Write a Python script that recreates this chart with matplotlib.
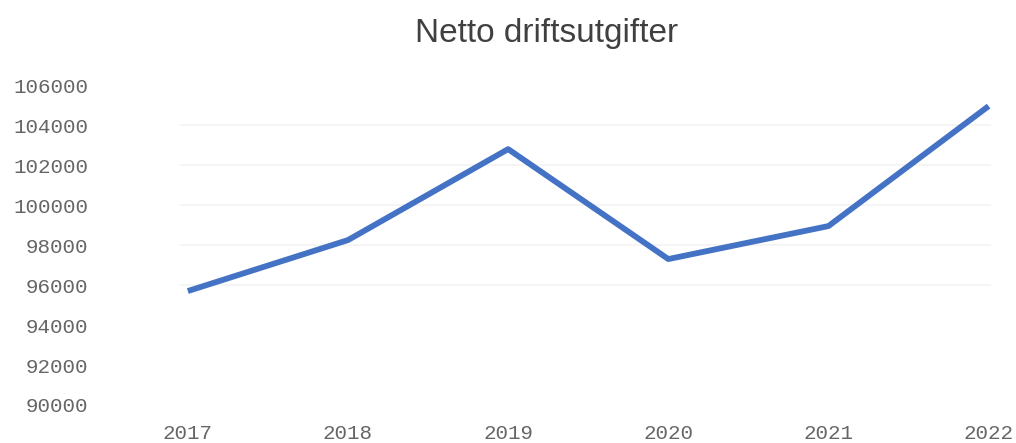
import matplotlib
matplotlib.use("Agg")
import matplotlib.pyplot as plt

years = [2017, 2018, 2019, 2020, 2021, 2022]
utgifter = [95700, 98250, 102800, 97300, 98950, 104950]
yticks = [90000, 92000, 94000, 96000, 98000, 100000, 102000, 104000, 106000]

fig = plt.figure(figsize=(10.16, 4.43), dpi=100)
ax = fig.add_axes([0.177, 0.0858, 0.798, 0.722])

ax.plot(years, utgifter, color='#4472c4', lw=4.2, solid_capstyle='butt', zorder=3)

ax.set_xlim(2016.95, 2022.0125)
ax.set_ylim(90000, 106000)
ax.set_xticks(years)
ax.set_yticks(yticks)
ax.set_yticklabels([str(v) for v in yticks])

for s in ax.spines.values():
    s.set_visible(False)
ax.tick_params(length=0, labelsize=15, labelcolor='#666666')
ax.tick_params(axis='y', pad=66)
ax.tick_params(axis='x', pad=14)
for lab in ax.get_xticklabels() + ax.get_yticklabels():
    lab.set_family('Liberation Mono')

# faint gridlines (only the middle ones are visible in the original)
ax.yaxis.grid(True, color='#f3f3f3', lw=1.2)
for val, gl in zip(yticks, ax.get_ygridlines()):
    if val < 96000 or val > 104000:
        gl.set_visible(False)
ax.set_axisbelow(True)

fig.text(0.538, 0.925, 'Netto driftsutgifter', ha='center', va='center',
         fontsize=24, color='#404040', family='Liberation Sans')

fig.savefig('out.png', dpi=100)
